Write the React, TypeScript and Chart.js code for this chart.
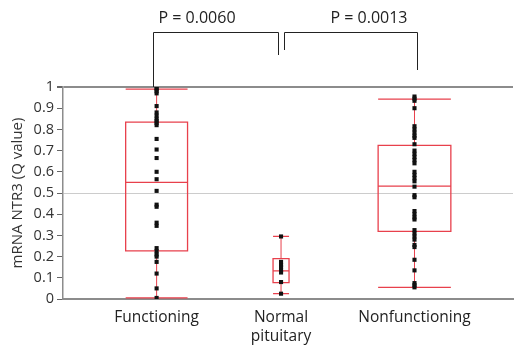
import React, { useEffect, useRef } from "react";
import { Chart, registerables } from "chart.js";

Chart.register(...registerables);

// ---- data ----
const categories = ["Functioning", "Normal\npituitary", "Nonfunctioning"];
const categoryPos = [1, 1.965, 3];

const functioning = [
  0.995, 0.99, 0.98, 0.97, 0.91, 0.88, 0.865, 0.85, 0.84, 0.83, 0.82, 0.755,
  0.705, 0.665, 0.6, 0.565, 0.51, 0.445, 0.435, 0.36, 0.345, 0.24, 0.225, 0.21,
  0.2, 0.175, 0.12, 0.05, 0.005,
];
const normal = [0.295, 0.175, 0.16, 0.15, 0.135, 0.125, 0.08, 0.025];
const nonfunctioning = [
  0.955, 0.945, 0.935, 0.9, 0.815, 0.8, 0.785, 0.77, 0.76, 0.73, 0.7, 0.685,
  0.67, 0.655, 0.64, 0.6, 0.585, 0.57, 0.555, 0.53, 0.49, 0.48, 0.415, 0.4,
  0.385, 0.375, 0.325, 0.31, 0.295, 0.28, 0.255, 0.245, 0.185, 0.135, 0.075,
  0.065, 0.055,
];

const boxMin = [0.005, 0.025, 0.055];
const boxQ1 = [0.227, 0.077, 0.319];
const boxMedian = [0.55, 0.133, 0.532];
const boxQ3 = [0.834, 0.19, 0.725];
const boxMax = [0.99, 0.295, 0.943];
const boxHalfWidth = [0.24, 0.062, 0.282];

const pLabels = ["P = 0.0060", "P = 0.0013"];
const yTicks = [0, 0.1, 0.2, 0.3, 0.4, 0.5, 0.6, 0.7, 0.8, 0.9, 1];

const FONT = "'Open Sans', 'Noto Sans', sans-serif";
const RED = "#e8404c";

const boxPlugin = {
  id: "boxes",
  beforeDatasetsDraw(chart: any) {
    const { ctx, scales } = chart;
    const x = scales.x;
    const y = scales.y;
    ctx.save();
    ctx.strokeStyle = RED;
    ctx.lineWidth = 1.3;
    categoryPos.forEach((c, i) => {
      const l = x.getPixelForValue(c - boxHalfWidth[i]);
      const r = x.getPixelForValue(c + boxHalfWidth[i]);
      const cx = x.getPixelForValue(c);
      const yMin = y.getPixelForValue(boxMin[i]);
      const yQ1 = y.getPixelForValue(boxQ1[i]);
      const yMed = y.getPixelForValue(boxMedian[i]);
      const yQ3 = y.getPixelForValue(boxQ3[i]);
      const yMax = y.getPixelForValue(boxMax[i]);
      ctx.beginPath();
      ctx.rect(l, yQ3, r - l, yQ1 - yQ3);
      ctx.moveTo(l, yMed);
      ctx.lineTo(r, yMed);
      ctx.moveTo(l, yMin);
      ctx.lineTo(r, yMin);
      ctx.moveTo(l, yMax);
      ctx.lineTo(r, yMax);
      ctx.stroke();
      ctx.beginPath();
      ctx.lineWidth = 1;
      ctx.moveTo(cx, yMax);
      ctx.lineTo(cx, yQ3);
      ctx.moveTo(cx, yQ1);
      ctx.lineTo(cx, yMin);
      ctx.stroke();
      ctx.lineWidth = 1.3;
    });
    ctx.restore();
  },
};

const bracketPlugin = {
  id: "brackets",
  afterDraw(chart: any) {
    const { ctx, scales, chartArea } = chart;
    const x = scales.x;
    const x0 = Math.round(x.getPixelForValue(categoryPos[0])) - 3.5;
    const x1 = Math.round(x.getPixelForValue(categoryPos[1])) + 0.5;
    const x2 = Math.round(x.getPixelForValue(categoryPos[2])) + 3.5;
    const top = chartArea.top;
    const yb = 32.5;
    ctx.save();
    ctx.strokeStyle = "#222";
    ctx.lineWidth = 1;
    ctx.beginPath();
    ctx.moveTo(x0, top);
    ctx.lineTo(x0, yb);
    ctx.lineTo(x1 - 3, yb);
    ctx.lineTo(x1 - 3, top - 32);
    ctx.moveTo(x1 + 3, top - 37);
    ctx.lineTo(x1 + 3, yb);
    ctx.lineTo(x2, yb);
    ctx.lineTo(x2, top - 17);
    ctx.stroke();
    ctx.fillStyle = "#222";
    ctx.font = `16px ${FONT}`;
    ctx.textBaseline = "middle";
    ctx.textAlign = "left";
    ctx.fillText(pLabels[0], x0 + 5, 18);
    ctx.textAlign = "right";
    ctx.fillText(pLabels[1], x2 - 10, 18);
    ctx.restore();
  },
};

export default function App() {
  const ref = useRef<HTMLCanvasElement>(null);
  useEffect(() => {
    if (!ref.current) return;
    const mk = (vals: number[], i: number) => ({
      data: vals.map((v) => ({ x: categoryPos[i], y: v })),
      pointStyle: "rect",
      pointRadius: 2.9,
      pointBackgroundColor: "#111",
      pointBorderWidth: 0,
      showLine: false,
    });
    const chart = new Chart(ref.current, {
      type: "scatter",
      data: {
        datasets: [mk(functioning, 0), mk(normal, 1), mk(nonfunctioning, 2)],
      },
      options: {
        animation: false,
        responsive: false,
        events: [],
        layout: { padding: { top: 87, right: 2, left: 0, bottom: 0 } },
        plugins: { legend: { display: false }, tooltip: { enabled: false } },
        scales: {
          x: {
            type: "linear",
            min: 0.274,
            max: 3.764,
            afterBuildTicks: (s: any) => {
              s.ticks = categoryPos.map((v) => ({ value: v }));
            },
            afterFit: (s: any) => {
              s.height = 48;
            },
            grid: { display: false, drawTicks: false },
            border: { color: "#8c8c8c", width: 2 },
            ticks: {
              padding: 9,
              color: "#222",
              font: { family: FONT, size: 15.5, lineHeight: 1.25 },
              maxRotation: 0,
              callback: (_v: any, i: number) => categories[i].split("\n"),
            },
          },
          y: {
            min: 0,
            max: 1,
            afterBuildTicks: (s: any) => {
              s.ticks = yTicks.map((v) => ({ value: v }));
            },
            afterFit: (s: any) => {
              s.width = 63;
            },
            grid: {
              color: (c: any) =>
                c.tick && c.tick.value === 1
                  ? "#8c8c8c"
                  : c.tick && c.tick.value === 0.5
                  ? "#cccccc"
                  : "rgba(0,0,0,0)",
              lineWidth: (c: any) => (c.tick && c.tick.value === 1 ? 2 : 1),
              tickColor: "#666",
              tickLength: 6,
            },
            border: { color: "#8c8c8c", width: 1.5 },
            ticks: {
              padding: 3,
              color: "#333",
              font: { family: FONT, size: 14.5 },
              callback: (v: any) => String(Math.round(v * 10) / 10),
            },
            title: {
              display: true,
              text: "mRNA NTR3 (Q value)",
              color: "#333",
              font: { family: FONT, size: 15 },
              padding: { top: 9, bottom: 0 },
            },
          },
        },
      },
      plugins: [boxPlugin, bracketPlugin],
    });
    return () => chart.destroy();
  }, []);
  return (
    <div style={{ position: "absolute", left: 0, top: 0 }}>
      <canvas ref={ref} width={517} height={347} style={{ width: 517, height: 347 }} />
    </div>
  );
}
